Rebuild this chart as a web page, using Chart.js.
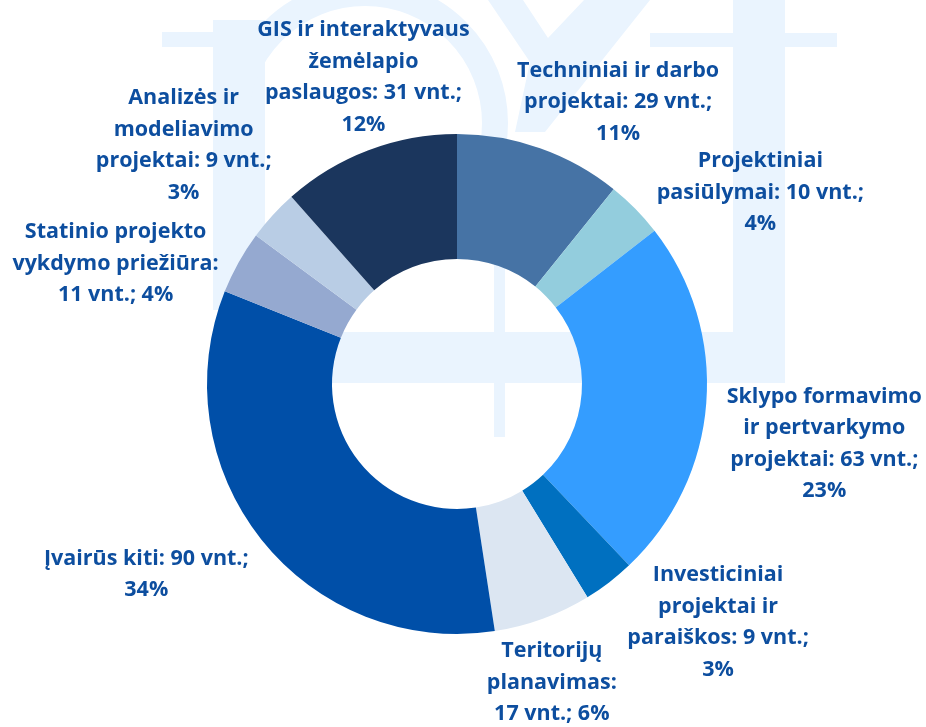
<!DOCTYPE html>
<html lang="lt">
<head>
<meta charset="utf-8">
<title>Projektai pagal tipą</title>
<script src="https://cdn.jsdelivr.net/npm/chart.js@4.4.1/dist/chart.umd.min.js"></script>
<style>
    html, body { margin: 0; padding: 0; background: #ffffff; }
    #wrap { width: 926px; height: 727px; position: relative; }
</style>
</head>
<body>
<div id="wrap"><canvas id="projectChart"></canvas></div>
<script>
/**
 * Projektų pasiskirstymas pagal tipą (žiedinė diagrama)
 */

// kategorijos (eilutėmis, kaip užrašyta paveiksle)
const categories = [
    ['Techniniai ir darbo', 'projektai'],
    ['Projektiniai', 'pasiūlymai'],
    ['Sklypo formavimo', 'ir pertvarkymo', 'projektai'],
    ['Investiciniai', 'projektai ir', 'paraiškos'],
    ['Teritorijų', 'planavimas'],
    ['Įvairūs kiti'],
    ['Statinio projekto', 'vykdymo priežiūra'],
    ['Analizės ir', 'modeliavimo', 'projektai'],
    ['GIS ir interaktyvaus', 'žemėlapio', 'paslaugos']
];

// projektų skaičius, vnt.
const counts = [29, 10, 63, 9, 17, 90, 11, 9, 31];

// procentai, kaip parodyta etiketėse
const percents = [11, 4, 23, 3, 6, 34, 4, 3, 12];

const sliceColors = [
    '#4673A5', '#93CDDD', '#349DFF', '#0070C0', '#DCE6F2',
    '#004FA8', '#95A9D0', '#B9CDE5', '#1B365D'
];

// etikečių vieta nuo lanko vidurio taško
const labelOffsets = [
    [78, -46], [125, -16], [118, 41], [109, 40], [9, 64],
    [-115, 35], [-123, 1], [-89, -70], [-5, -73]
];
const countOnNewLine = [false, false, false, false, true, false, true, false, false];

const LABEL_FONT = 'bold 21.5px "Open Sans"';
const LABEL_COLOR = '#0D4E9F';
const LINE_HEIGHT = 31.5;
const WATERMARK_COLOR = '#EAF4FE';


// etiketės eilutės
function buildLabelLines(i) {

    const lines = categories[i].slice();
    const last = lines.pop();
    const countText = counts[i] + ' vnt.;';
    const pctText = percents[i] + '%';

    if (countOnNewLine[i]) {
        lines.push(last + ':');
        lines.push(countText + ' ' + pctText);
    } else {
        lines.push(last + ': ' + countText);
        lines.push(pctText);
    }

    return lines;
}


// fono logotipas
const watermarkPlugin = {
    id: 'watermark',
    beforeDatasetsDraw(chart) {

        const ctx = chart.ctx;

        ctx.save();
        ctx.fillStyle = WATERMARK_COLOR;
        ctx.strokeStyle = WATERMARK_COLOR;

        // kairė raidė
        ctx.fillRect(162, 32, 100, 15);
        ctx.fillRect(213, 20, 52, 290);

        ctx.lineWidth = 26;
        ctx.beginPath();
        ctx.arc(365, 123, 130, Math.PI, Math.PI * 2.5);
        ctx.stroke();

        // vidurinė dalis
        ctx.fillRect(494, 120, 11, 317);

        ctx.beginPath();
        ctx.moveTo(488, 0);
        ctx.lineTo(523, 0);
        ctx.lineTo(548, 38);
        ctx.lineTo(584, 0);
        ctx.lineTo(650, 0);
        ctx.lineTo(545, 132);
        ctx.lineTo(515, 132);
        ctx.lineTo(530, 62);
        ctx.closePath();
        ctx.fill();

        // dešinė raidė
        ctx.fillRect(650, 33, 187, 14);
        ctx.fillRect(733, 0, 52, 383);
        ctx.fillRect(300, 332, 485, 51);

        ctx.restore();
    }
};


// etiketės aplink žiedą
const labelPlugin = {
    id: 'outerLabels',
    afterDatasetsDraw(chart) {

        const ctx = chart.ctx;
        const meta = chart.getDatasetMeta(0);

        ctx.save();
        ctx.font = LABEL_FONT;
        ctx.fillStyle = LABEL_COLOR;
        ctx.textAlign = 'center';
        ctx.textBaseline = 'middle';

        meta.data.forEach(function(arc, i) {

            const p = arc.getProps(['x', 'y', 'startAngle', 'endAngle', 'outerRadius'], true);
            const mid = (p.startAngle + p.endAngle) / 2;
            const cx = p.x + Math.cos(mid) * p.outerRadius + labelOffsets[i][0];
            const cy = p.y + Math.sin(mid) * p.outerRadius + labelOffsets[i][1];

            const lines = buildLabelLines(i);
            const top = cy - (lines.length - 1) * LINE_HEIGHT / 2;

            lines.forEach(function(line, k) {
                ctx.fillText(line, cx, top + k * LINE_HEIGHT);
            });
        });

        ctx.restore();
    }
};


function initProjectChart() {

    const ctx = document.getElementById('projectChart');

    new Chart(ctx.getContext('2d'), {
        type: 'doughnut',
        data: {
            labels: categories.map(function(c) { return c.join(' '); }),
            datasets: [
                {
                    data: counts,
                    backgroundColor: sliceColors,
                    borderWidth: 0,
                    hoverBorderWidth: 0,
                    offset: 0,
                    hoverOffset: 0
                }
            ]
        },
        options: {
            responsive: true,
            maintainAspectRatio: false,
            animation: false,
            events: [],
            cutout: '50%',
            layout: {
                padding: { left: 207, right: 219, top: 134, bottom: 93 }
            },
            plugins: {
                legend: { display: false },
                tooltip: { enabled: false }
            }
        },
        plugins: [watermarkPlugin, labelPlugin]
    });
}


document.fonts.load(LABEL_FONT).then(initProjectChart, initProjectChart);
</script>
</body>
</html>
